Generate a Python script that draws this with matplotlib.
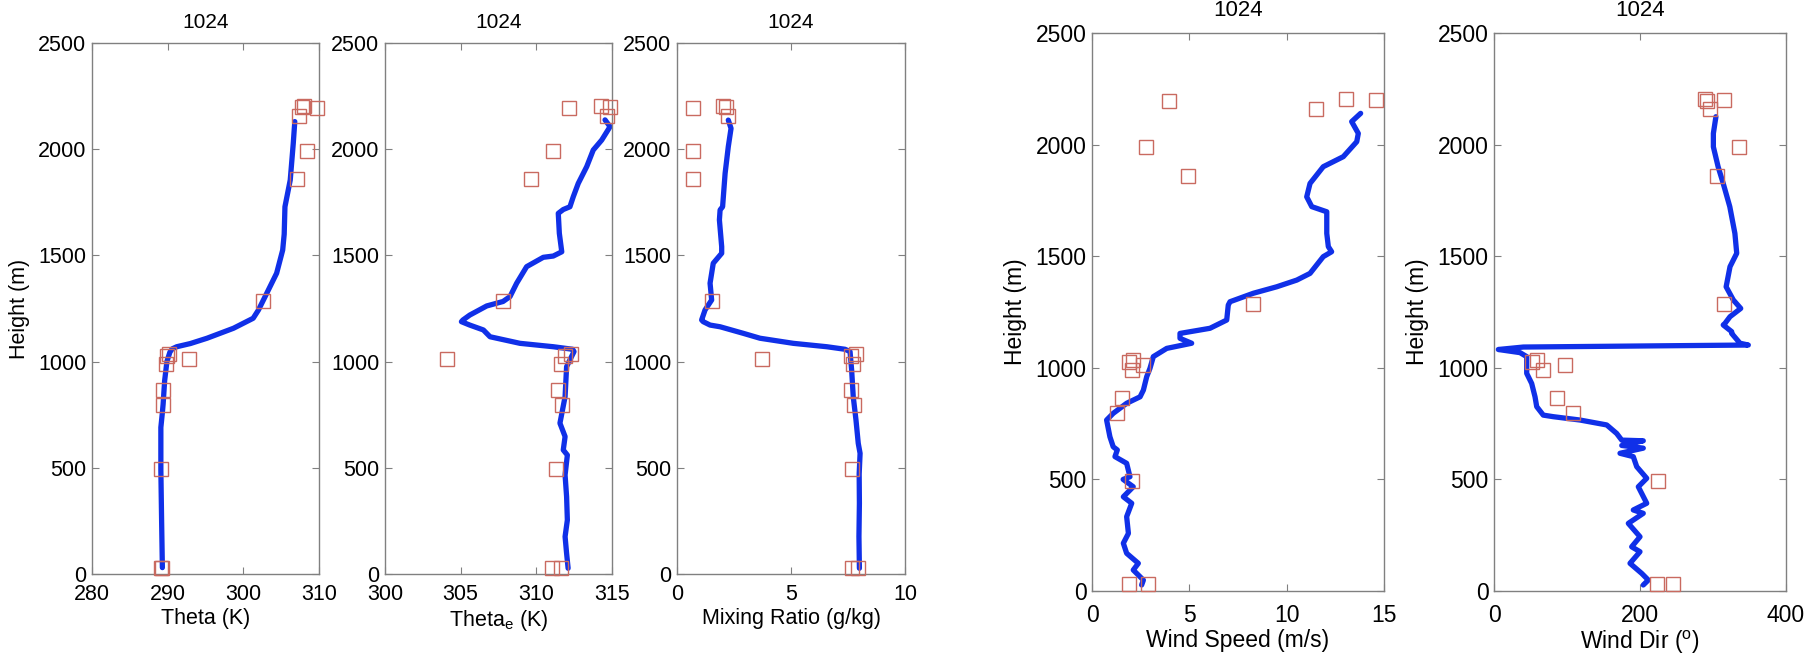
import matplotlib
matplotlib.use('Agg')
import matplotlib.pyplot as plt

plt.rcParams['font.family'] = ['Liberation Sans', 'DejaVu Sans']
plt.rcParams['mathtext.fontset'] = 'custom'
plt.rcParams['mathtext.rm'] = 'Liberation Sans'
plt.rcParams['mathtext.it'] = 'Liberation Sans:italic'

# ---------------- data ----------------
title_text = "1024"

# observation (square) levels, shared by all panels
obs_height = [30, 30, 493, 797, 865, 990, 1012, 1026, 1035, 1286, 1860, 1990, 2158, 2195, 2200, 2204]
obs_theta = [289.1, 289.3, 289.1, 289.4, 289.4, 289.8, 292.8, 289.9, 290.2, 302.6, 307.1, 308.4, 307.4, 309.7, 307.75, 308.0]
obs_thetae = [311.05, 311.6, 311.3, 311.7, 311.4, 311.6, 304.1, 311.9, 312.3, 307.8, 309.67, 311.1, 314.65, 312.18, 314.9, 314.25]
obs_mixr = [7.66, 7.95, 7.66, 7.78, 7.62, 7.7, 3.74, 7.62, 7.85, 1.55, 0.72, 0.72, 2.22, 0.69, 2.14, 2.0]
obs_wspd = [1.9, 2.88, 2.05, 1.28, 1.54, 2.05, 2.6, 1.9, 2.1, 8.27, 4.93, 2.77, 11.5, 3.96, 14.6, 13.05]
obs_wdir = [223.7, 244.7, 225, 108.6, 86.7, 67.6, 97.3, 51.6, 58.5, 315, 306, 335.6, 296, 292, 315, 289]

# profiles (blue lines)
theta_h = [2130, 2028, 1855, 1729, 1600, 1525, 1416, 1322, 1243, 1204, 1157, 1110, 1085, 1070,
           1060, 1045, 1000, 910, 800, 760, 690, 490, 250, 30]
theta_v = [306.8, 306.6, 306.2, 305.5, 305.4, 305.2, 304.4, 303.1, 302.0, 301.3, 298.7, 295.2, 293.0, 291.2,
           290.6, 290.3, 289.9, 289.6, 289.4, 289.3, 289.1, 289.1, 289.2, 289.3]

thetae_h = [2138, 2106, 2043, 1996, 1918, 1839, 1776, 1729, 1716, 1698, 1604, 1517, 1497, 1491, 1447,
            1369, 1306, 1283, 1262, 1219, 1196, 1188, 1172, 1149, 1117, 1086, 1070, 1058, 1047, 976,
            835, 710, 647, 584, 560, 466, 364, 254, 176, 97, 27]
thetae_v = [314.54, 314.87, 314.32, 313.76, 313.33, 312.77, 312.44, 312.22, 311.78, 311.45, 311.52, 311.68,
            311.12, 310.46, 309.36, 308.7, 308.26, 307.8, 306.72, 305.6, 305.15, 305.05, 305.6, 306.5,
            306.94, 308.92, 311.12, 312.4, 312.49, 312.0, 311.9, 311.56, 311.9, 311.78, 312.05, 311.9,
            312.0, 312.05, 311.9, 312.0, 312.1]

mixr_h = [2137, 2098, 2012, 1886, 1729, 1714, 1667, 1541, 1510, 1463, 1369, 1290, 1243, 1196, 1188,
          1172, 1164, 1133, 1110, 1086, 1070, 1058, 1047, 960, 835, 725, 615, 568, 471, 333, 176, 27]
mixr_v = [2.25, 2.37, 2.25, 2.11, 2.0, 1.89, 1.86, 1.96, 1.96, 1.59, 1.45, 1.52, 1.23, 1.08, 1.15,
          1.45, 1.89, 2.91, 3.64, 5.1, 6.57, 7.37, 7.59, 7.66, 7.73, 7.85, 7.95, 8.03, 7.99, 8.0, 7.98, 8.0]

wspd_h = [2140, 2103, 2050, 2013, 1946, 1901, 1826, 1766, 1722, 1699, 1602, 1543, 1520, 1498, 1423,
          1393, 1363, 1334, 1296, 1281, 1214, 1177, 1154, 1132, 1110, 1087, 1050, 998, 960, 900, 870,
          841, 796, 766, 691, 646, 632, 602, 572, 512, 500, 467, 422, 393, 333, 258, 214, 169, 124,
          94, 49, 27]
wspd_v = [13.8, 13.34, 13.68, 13.6, 12.91, 11.88, 11.2, 11.03, 11.29, 12.06, 12.06, 12.14, 12.31, 11.88,
          11.2, 10.52, 9.49, 8.29, 7.09, 7.0, 6.92, 6.06, 4.52, 4.52, 5.12, 3.84, 3.15, 2.98, 2.81, 2.64,
          2.47, 1.78, 1.09, 0.75, 0.92, 1.09, 1.3, 1.18, 1.78, 1.95, 1.6, 2.12, 1.61, 2.04, 1.78, 1.87,
          1.61, 1.78, 2.38, 2.12, 2.64, 2.55]

wdir_h = [2125, 2050, 1990, 1901, 1826, 1722, 1602, 1513, 1453, 1363, 1304, 1266, 1229, 1199, 1192,
          1162, 1154, 1110, 1102, 1093, 1082, 1068, 1050, 975, 930, 870, 826, 788, 781, 766, 744, 706,
          676, 673, 652, 640, 617, 602, 557, 505, 467, 393, 363, 348, 303, 243, 198, 176, 124, 79, 49, 27]
wdir_v = [304, 300.5, 300.5, 307, 314, 323, 330, 332.5, 323.3, 318, 327.8, 338, 323.3, 316.4, 314,
          325.6, 325.6, 337, 348.4, 40.2, 5.9, 35.6, 44.8, 44.8, 51.6, 56.2, 58.5, 67.5, 81.2, 117.8,
          154.4, 168, 175, 204.5, 175, 204.5, 172.6, 190.8, 195.5, 209.2, 197.7, 209.2, 190.8, 204.5,
          184, 200, 188.6, 200, 186.3, 202.3, 211.4, 204.5]

xlabels = ["Theta (K)", r"Theta$_\mathrm{e}$ (K)", "Mixing Ratio (g/kg)",
           "Wind Speed (m/s)", r"Wind Dir ($^\mathrm{o}$)"]
xlims = [(280, 310), (300, 315), (0, 10), (0, 15), (0, 400)]
xticks = [[280, 290, 300, 310], [300, 305, 310, 315], [0, 5, 10], [0, 5, 10, 15], [0, 200, 400]]
yticks = [0, 500, 1000, 1500, 2000, 2500]

# ---------------- layout ----------------
W, H = 1819, 661
fig = plt.figure(figsize=(W / 100, H / 100), dpi=100)
fig.patch.set_facecolor('white')

def rect(x0, x1, y0, y1):
    return [x0 / W, 1 - y1 / H, (x1 - x0) / W, (y1 - y0) / H]

rects = [rect(92, 319, 43, 574), rect(385, 612, 43, 574), rect(677, 905, 43, 574),
         rect(1092, 1384, 33, 591), rect(1494, 1786, 33, 591)]
fsizes = [15.5, 15.5, 15.5, 16.5, 16.5]
show_ylabel = [True, False, False, True, True]
title_pad = [11, 11, 11, 12.5, 12.5]

profiles = [(theta_v, theta_h), (thetae_v, thetae_h), (mixr_v, mixr_h), (wspd_v, wspd_h), (wdir_v, wdir_h)]
obs = [obs_theta, obs_thetae, obs_mixr, obs_wspd, obs_wdir]

line_color = '#1030e8'
sq_color = '#c96a60'
spine_color = '#808080'

for i in range(5):
    ax = fig.add_axes(rects[i])
    fs = fsizes[i]
    pv, ph = profiles[i]
    ax.plot(pv, ph, color=line_color, lw=3.8, solid_capstyle='round', solid_joinstyle='round', zorder=2)
    ax.plot(obs[i], obs_height, linestyle='none', marker='s', markersize=9.5,
            markerfacecolor='none', markeredgecolor=sq_color, markeredgewidth=1.0,
            clip_on=False, zorder=3)
    ax.set_xlim(*xlims[i])
    ax.set_ylim(0, 2500)
    ax.set_xticks(xticks[i])
    ax.set_yticks(yticks)
    ax.set_xticklabels([str(t) for t in xticks[i]])
    ax.set_yticklabels([str(t) for t in yticks])
    for s in ax.spines.values():
        s.set_color(spine_color)
        s.set_linewidth(1.0)
    ax.tick_params(direction='in', length=5, width=0.8, color=spine_color,
                   top=True, right=True, labelsize=fs, labelcolor='black')
    ax.tick_params(axis='x', pad=7.5 if i < 3 else 9)
    ax.tick_params(axis='y', pad=4)
    ax.set_xlabel(xlabels[i], fontsize=fs, labelpad=2)
    if show_ylabel[i]:
        ax.set_ylabel("Height (m)", fontsize=fs, labelpad=6)
    ax.set_title(title_text, fontsize=fs - 0.5, pad=title_pad[i])

fig.savefig('out.png', dpi=100)
